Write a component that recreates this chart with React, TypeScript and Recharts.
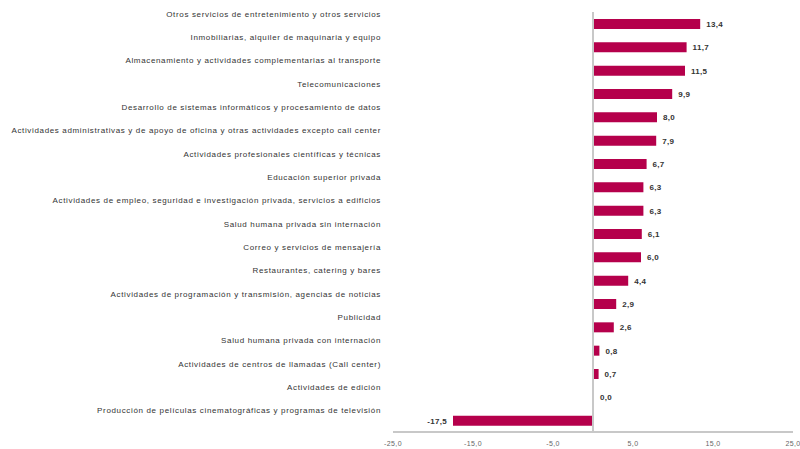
import React from "react";
import { BarChart, Bar, XAxis, YAxis, ReferenceLine, LabelList } from "recharts";

const categories = [
  "Otros servicios de entretenimiento y otros servicios",
  "Inmobiliarias, alquiler de maquinaria y equipo",
  "Almacenamiento y actividades complementarias al transporte",
  "Telecomunicaciones",
  "Desarrollo de sistemas informáticos y procesamiento de datos",
  "Actividades administrativas y de apoyo de oficina y otras actividades excepto call center",
  "Actividades profesionales científicas y técnicas",
  "Educación superior privada",
  "Actividades de empleo, seguridad e investigación privada, servicios a edificios",
  "Salud humana privada sin internación",
  "Correo y servicios de mensajería",
  "Restaurantes, catering y bares",
  "Actividades de programación y transmisión,  agencias de noticias",
  "Publicidad",
  "Salud humana privada con internación",
  "Actividades de centros de llamadas (Call center)",
  "Actividades de edición",
  "Producción de películas cinematográficas y programas de televisión",
];

const values = [13.4, 11.7, 11.5, 9.9, 8.0, 7.9, 6.7, 6.3, 6.3, 6.1, 6.0, 4.4, 2.9, 2.6, 0.8, 0.7, 0.0, -17.5];

const xTicks = [-25, -15, -5, 5, 15, 25];

const data = categories.map((name, i) => ({ name, value: values[i] }));

const fmt = (v: number) => v.toFixed(1).replace(".", ",");

const CatTick = (props: any) => {
  const { x, y, payload } = props;
  return (
    <text x={x - 4} y={y - 7} textAnchor="end" fontSize={8} fill="#333" fontFamily="Liberation Sans, Arial, sans-serif" letterSpacing={0.65}>
      {payload.value}
    </text>
  );
};

const ValueLabel = (props: any) => {
  const { x, y, width, height, value } = props;
  const v = Number(value);
  const neg = v < 0;
  const left = Math.min(x, x + width);
  const right = Math.max(x, x + width);
  const tx = neg ? left - 6 : right + 6;
  return (
    <text x={tx} y={y + height / 2 + 3} textAnchor={neg ? "end" : "start"} fontSize={8} fontWeight="bold" fill="#333" fontFamily="Liberation Sans, Arial, sans-serif" letterSpacing={0.3}>
      {fmt(v)}
    </text>
  );
};

export default function App() {
  return (
    <div style={{ position: "absolute", left: 0, top: 0, width: 800, height: 449, background: "#fff" }}>
      <BarChart width={800} height={449} data={data} layout="vertical" margin={{ top: 12, right: 7, bottom: 0, left: 0 }}>
        <XAxis
          type="number"
          domain={[-25, 25]}
          ticks={xTicks}
          tickFormatter={fmt}
          axisLine={{ stroke: "#c8c8c8", strokeWidth: 2 }}
          tickLine={false}
          tick={{ fontSize: 7, fill: "#666", fontFamily: "Liberation Sans, Arial, sans-serif", letterSpacing: 0.4 }}
          height={17}
          tickMargin={3}
          interval={0}
        />
        <YAxis
          type="category"
          dataKey="name"
          width={393}
          axisLine={false}
          tickLine={false}
          tick={<CatTick />}
          interval={0}
        />
        <ReferenceLine x={0} stroke="#c8c8c8" strokeWidth={2} />
        <Bar dataKey="value" fill="#B5004B" barSize={10} minPointSize={1} isAnimationActive={false}>
          <LabelList dataKey="value" content={<ValueLabel />} />
        </Bar>
      </BarChart>
    </div>
  );
}
